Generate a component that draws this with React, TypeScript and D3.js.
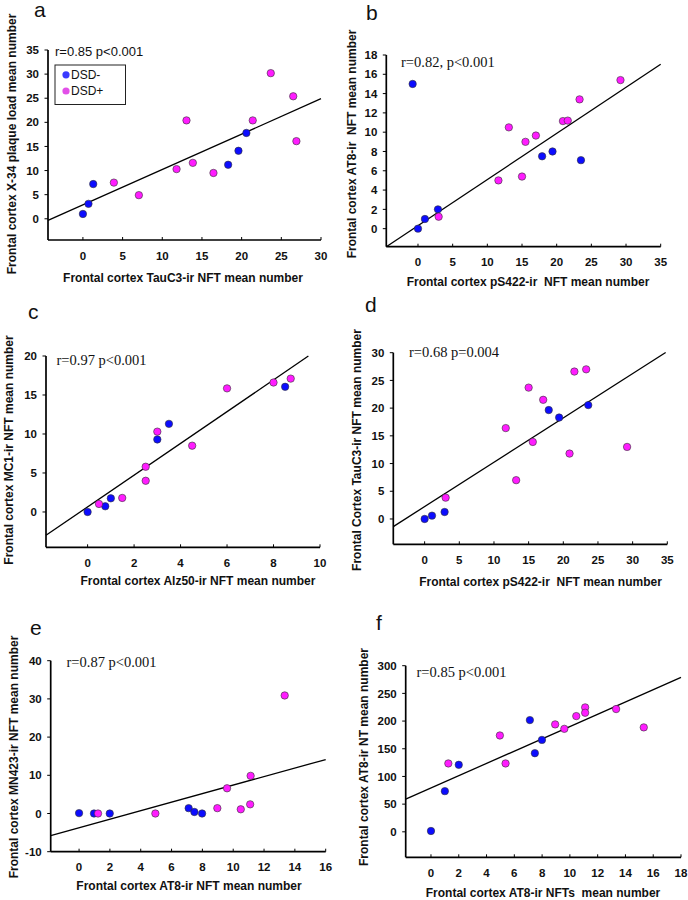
import * as d3 from "d3";

// ---- data ----
const aNeg: [number, number][] = [[0, 1], [0.7, 3.1], [1.3, 7.2], [18.3, 11.2], [19.6, 14.1], [20.6, 17.8]];
const aPos: [number, number][] = [[3.9, 7.5], [7.05, 4.9], [11.8, 10.3], [13.05, 20.4], [13.85, 11.6], [16.45, 9.5], [21.4, 20.4], [23.67, 30.2], [26.5, 25.4], [26.9, 16.1]];
const aFit = { intercept: 2.88, slope: 0.734, from: -4.4, to: 30 };

const bNeg: [number, number][] = [[-0.77, 15], [0, 0], [1.0, 1.0], [2.88, 2.0], [17.9, 7.5], [19.4, 8.0], [23.5, 7.1]];
const bPos: [number, number][] = [[2.98, 1.24], [11.6, 5.0], [13.1, 10.5], [15.0, 5.4], [15.5, 9.0], [17.0, 9.65], [20.9, 11.15], [21.6, 11.2], [23.3, 13.4], [29.2, 15.4]];
const bFit = { intercept: 0.31, slope: 0.478, from: -4.57, to: 35 };

const cNeg: [number, number][] = [[0, 0], [0.76, 0.73], [1.0, 1.75], [3.0, 9.3], [3.5, 11.3], [8.5, 16.05]];
const cPos: [number, number][] = [[0.49, 1.03], [1.49, 1.8], [2.5, 4.0], [2.5, 5.8], [3.0, 10.3], [4.5, 8.5], [6.0, 15.85], [8.0, 16.6], [8.74, 17.1]];
const cFit = { intercept: 0.65, slope: 2.036, from: -1.79, to: 9.5 };

const dNeg: [number, number][] = [[0, 0], [1.06, 0.6], [2.88, 1.26], [17.9, 19.65], [19.4, 18.3], [23.6, 20.55]];
const dPos: [number, number][] = [[3.03, 3.85], [11.7, 16.4], [13.2, 7.0], [15.0, 23.7], [15.6, 13.9], [17.1, 21.5], [20.9, 11.8], [21.6, 26.6], [23.3, 27.0], [29.2, 13.0]];
const dFit = { intercept: 2.24, slope: 0.8, from: -4.52, to: 34.76 };

const eNeg: [number, number][] = [[0, 0.1], [0.97, 0], [1.99, 0], [7.11, 1.4], [7.48, 0.4], [7.98, 0]];
const ePos: [number, number][] = [[1.23, 0], [4.95, 0], [8.97, 1.4], [9.6, 6.6], [10.49, 1.1], [11.1, 2.4], [11.13, 9.86], [13.34, 30.9]];
const eFit = { intercept: -3.71, slope: 1.115, from: -1.84, to: 16 };

const fNeg: [number, number][] = [[0, 1.5], [1.0, 73.5], [2.0, 121], [7.12, 201.8], [7.48, 142], [7.99, 166]];
const fPos: [number, number][] = [[1.25, 123.5], [4.96, 174], [5.37, 123.5], [8.94, 194], [9.6, 186], [10.46, 209], [11.1, 224.7], [11.1, 215], [13.33, 221.7], [15.32, 188.6]];
const fFit = { intercept: 79.2, slope: 11.09, from: -1.82, to: 18 };

const legendLabels = ["DSD-", "DSD+"];

// ---- layout ----
const SANS = "'Liberation Sans', Arial, sans-serif";
const SERIF = "'Liberation Serif', 'Times New Roman', serif";
const BLUE = "#0c0cff";
const PINK = "#ff1cff";

interface Panel {
  letter: string;
  letterPos: [number, number];
  neg: [number, number][];
  pos: [number, number][];
  fit: { intercept: number; slope: number; from: number; to: number };
  xDomain: [number, number];
  xRange: [number, number];
  yDomain: [number, number];
  yRange: [number, number];
  xTicks: number[];
  yTicks: number[];
  xLabel: string;
  xLabelPos: [number, number];
  yLabel: string;
  yLabelPos: [number, number];
  stat: string;
  statPos: [number, number];
  statSerif: boolean;
  legend?: boolean;
}

const panels: Panel[] = [
  {
    letter: "a", letterPos: [34, 17], neg: aNeg, pos: aPos, fit: aFit,
    xDomain: [-4.4, 30], xRange: [48, 321], yDomain: [-4.4, 35], yRange: [240, 50],
    xTicks: d3.range(0, 31, 5), yTicks: d3.range(0, 36, 5),
    xLabel: "Frontal cortex TauC3-ir NFT mean number", xLabelPos: [183, 282],
    yLabel: "Frontal cortex X-34 plaque load mean number", yLabelPos: [15.5, 144],
    stat: "r=0.85 p<0.001", statPos: [55, 56], statSerif: false, legend: true,
  },
  {
    letter: "b", letterPos: [366, 20], neg: bNeg, pos: bPos, fit: bFit,
    xDomain: [-4.57, 35], xRange: [386.3, 660.7], yDomain: [-1.87, 18], yRange: [246.7, 55],
    xTicks: d3.range(0, 36, 5), yTicks: d3.range(0, 19, 2),
    xLabel: "Frontal cortex pS422-ir  NFT mean number", xLabelPos: [528, 286],
    yLabel: "Frontal cortex AT8-ir  NFT mean number", yLabelPos: [356, 144],
    stat: "r=0.82, p<0.001", statPos: [401, 66.5], statSerif: true,
  },
  {
    letter: "c", letterPos: [28, 319], neg: cNeg, pos: cPos, fit: cFit,
    xDomain: [-1.79, 10], xRange: [46, 320], yDomain: [-4.53, 20], yRange: [547.3, 356],
    xTicks: d3.range(0, 11, 2), yTicks: d3.range(0, 21, 5),
    xLabel: "Frontal cortex Alz50-ir NFT mean number", xLabelPos: [198, 585],
    yLabel: "Frontal cortex MC1-ir NFT mean number", yLabelPos: [12.5, 450],
    stat: "r=0.97 p<0.001", statPos: [56.5, 365], statSerif: true,
  },
  {
    letter: "d", letterPos: [365, 312], neg: dNeg, pos: dPos, fit: dFit,
    xDomain: [-4.52, 35], xRange: [393.3, 667.3], yDomain: [-4.57, 30], yRange: [544.3, 352.7],
    xTicks: d3.range(0, 36, 5), yTicks: d3.range(0, 31, 5),
    xLabel: "Frontal cortex pS422-ir  NFT mean number", xLabelPos: [540.5, 586],
    yLabel: "Frontal Cortex TauC3-ir NFT mean number", yLabelPos: [361, 450],
    stat: "r=0.68 p=0.004", statPos: [409, 357], statSerif: true,
  },
  {
    letter: "e", letterPos: [30, 635], neg: eNeg, pos: ePos, fit: eFit,
    xDomain: [-1.84, 16], xRange: [50.7, 325.7], yDomain: [-10, 40], yRange: [851.7, 660.7],
    xTicks: d3.range(0, 17, 2), yTicks: d3.range(-10, 41, 10),
    xLabel: "Frontal cortex AT8-ir NFT mean number", xLabelPos: [189, 890],
    yLabel: "Frontal cortex MN423-ir NFT mean number", yLabelPos: [17.5, 757],
    stat: "r=0.87 p<0.001", statPos: [66.5, 666.5], statSerif: true,
  },
  {
    letter: "f", letterPos: [376, 630], neg: fNeg, pos: fPos, fit: fFit,
    xDomain: [-1.82, 18], xRange: [405.7, 681], yDomain: [-46, 300], yRange: [857.3, 665.7],
    xTicks: d3.range(0, 19, 2), yTicks: d3.range(0, 301, 50),
    xLabel: "Frontal cortex AT8-ir NFTs  mean number", xLabelPos: [543, 897],
    yLabel: "Frontal cortex AT8-ir NT mean number", yLabelPos: [368, 757],
    stat: "r=0.85 p<0.001", statPos: [416.5, 677], statSerif: true,
  },
];

function ScatterPanel({ p }: { p: Panel }) {
  const x = d3.scaleLinear().domain(p.xDomain).range(p.xRange);
  const y = d3.scaleLinear().domain(p.yDomain).range(p.yRange);
  const fitLine = d3
    .line<number>()
    .x((v) => x(v))
    .y((v) => y(p.fit.intercept + p.fit.slope * v));
  const x0 = p.xRange[0];
  const yBottom = p.yRange[0];
  const yTop = y(p.yTicks[p.yTicks.length - 1]);

  return (
    <g>
      <text x={p.letterPos[0]} y={p.letterPos[1]} fontFamily={SANS} fontSize={21} fill="#111">
        {p.letter}
      </text>

      {/* axes */}
      <line x1={x0} x2={x0} y1={yBottom} y2={yTop} stroke="#000" strokeWidth={1.7} />
      <line x1={x0} x2={p.xRange[1]} y1={yBottom} y2={yBottom} stroke="#000" strokeWidth={1.7} />
      {p.yTicks.map((t) => (
        <g key={"y" + t}>
          <line x1={x0 - 3.5} x2={x0} y1={y(t)} y2={y(t)} stroke="#000" strokeWidth={1} />
          <text x={x0 - 9} y={y(t)} dy="0.36em" textAnchor="end" fontFamily={SANS} fontWeight="bold" fontSize={11.5} fill="#111">
            {t}
          </text>
        </g>
      ))}
      {p.xTicks.map((t) => (
        <g key={"x" + t}>
          <line x1={x(t)} x2={x(t)} y1={yBottom} y2={yBottom - 3} stroke="#000" strokeWidth={1} />
          <text x={x(t)} y={yBottom + 19.5} textAnchor="middle" fontFamily={SANS} fontWeight="bold" fontSize={11.5} fill="#111">
            {t}
          </text>
        </g>
      ))}

      {/* regression */}
      <path d={fitLine([p.fit.from, p.fit.to]) ?? ""} stroke="#000" strokeWidth={1.3} fill="none" />

      {/* points */}
      {p.neg.map((d, i) => (
        <circle key={"n" + i} cx={x(d[0])} cy={y(d[1])} r={3.7} fill={BLUE} stroke="#333" strokeWidth={0.6} />
      ))}
      {p.pos.map((d, i) => (
        <circle key={"p" + i} cx={x(d[0])} cy={y(d[1])} r={3.7} fill={PINK} stroke="#333" strokeWidth={0.6} />
      ))}

      {/* labels */}
      <text x={p.xLabelPos[0]} y={p.xLabelPos[1]} textAnchor="middle" fontFamily={SANS} fontWeight="bold" fontSize={12} fill="#111" style={{ whiteSpace: "pre" }}>
        {p.xLabel}
      </text>
      <text
        transform={`translate(${p.yLabelPos[0]},${p.yLabelPos[1]}) rotate(-90)`}
        textAnchor="middle" fontFamily={SANS} fontWeight="bold" fontSize={12} fill="#111" style={{ whiteSpace: "pre" }}
      >
        {p.yLabel}
      </text>
      <text
        x={p.statPos[0]} y={p.statPos[1]}
        fontFamily={p.statSerif ? SERIF : SANS} fontSize={p.statSerif ? 14.5 : 13} fill="#111"
      >
        {p.stat}
      </text>

      {p.legend && (
        <g>
          <rect x={55} y={65} width={70.5} height={39.5} fill="#fff" stroke="#222" strokeWidth={1} />
          <circle cx={66} cy={74.8} r={3.6} fill="#3a3aff" />
          <circle cx={66} cy={91} r={3.6} fill="#e250e8" />
          <text x={71} y={79} fontFamily={SANS} fontSize={12} fill="#111">{legendLabels[0]}</text>
          <text x={71} y={95.3} fontFamily={SANS} fontSize={12} fill="#111">{legendLabels[1]}</text>
        </g>
      )}
    </g>
  );
}

export default function App() {
  return (
    <svg
      width={688}
      height={900}
      viewBox="0 0 688 900"
      style={{ position: "absolute", left: 0, top: 0, background: "#fff" }}
    >
      <rect width={688} height={900} fill="#fff" />
      {panels.map((p) => (
        <ScatterPanel key={p.letter} p={p} />
      ))}
    </svg>
  );
}
